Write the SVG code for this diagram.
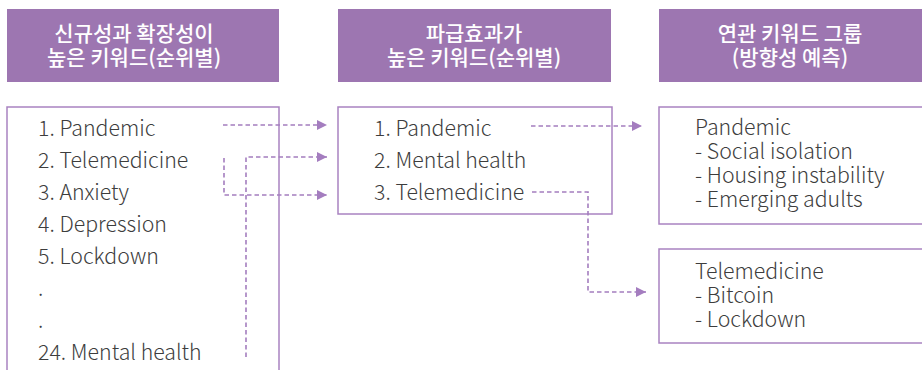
<svg xmlns="http://www.w3.org/2000/svg" width="922" height="370" viewBox="0 0 922 370">
<style>
.hdr{fill:#9d76b1}
.ht{font-family:"Noto Sans CJK KR","Noto Sans",sans-serif;font-size:21px;font-weight:500;fill:#ffffff;text-anchor:middle}
.box{fill:#ffffff;stroke:#a983c1;stroke-width:1.5}
.t{font-family:"Noto Sans CJK KR","Noto Sans",sans-serif;font-size:21.3px;font-weight:300;fill:#3d3d3d}
.c{fill:none;stroke:#a47dbf;stroke-width:1.6;stroke-dasharray:4.5 3}
</style>
<defs>
<marker id="ah" markerWidth="10" markerHeight="10" refX="10" refY="5" orient="auto" markerUnits="userSpaceOnUse" viewBox="0 0 10 10">
<path d="M0,0 L10,5 L0,10 Z" fill="#a47dbf"/>
</marker>
</defs>
<g id="h1"><rect class="hdr" x="7" y="9" width="272" height="73"/><text class="ht" x="134" y="41">신규성과 확장성이</text><text class="ht" x="134" y="65">높은 키워드(순위별)</text></g>
<g id="h2"><rect class="hdr" x="338" y="9" width="273" height="73"/><text class="ht" x="474" y="41">파급효과가</text><text class="ht" x="474" y="65">높은 키워드(순위별)</text></g>
<g id="h3"><rect class="hdr" x="659" y="9" width="270" height="73"/><text class="ht" x="790" y="41">연관 키워드 그룹</text><text class="ht" x="790" y="65">(방향성 예측)</text></g>
<g id="listA"><rect class="box" x="7" y="107" width="272" height="270"/>
<text class="t" x="38" y="136">1. Pandemic</text>
<text class="t" x="38" y="168">2. Telemedicine</text>
<text class="t" x="38" y="200">3. Anxiety</text>
<text class="t" x="38" y="232">4. Depression</text>
<text class="t" x="38" y="264">5. Lockdown</text>
<text class="t" x="38" y="296">.</text>
<text class="t" x="38" y="328">.</text>
<text class="t" x="38" y="360">24. Mental health</text>
</g>
<g id="listB"><rect class="box" x="338" y="107" width="274" height="107"/>
<text class="t" x="374" y="136">1. Pandemic</text>
<text class="t" x="374" y="168">2. Mental health</text>
<text class="t" x="374" y="200">3. Telemedicine</text>
</g>
<g id="groupC"><rect class="box" x="659" y="107" width="270" height="117"/>
<text class="t" x="695" y="135">Pandemic</text>
<text class="t" x="695" y="159">- Social isolation</text>
<text class="t" x="695" y="183">- Housing instability</text>
<text class="t" x="695" y="207">- Emerging adults</text>
</g>
<g id="groupD"><rect class="box" x="659" y="249" width="270" height="94"/>
<text class="t" x="695" y="279">Telemedicine</text>
<text class="t" x="695" y="303">- Bitcoin</text>
<text class="t" x="695" y="327">- Lockdown</text>
</g>
<g id="connectors">
<path class="c" d="M223,125 H327" marker-end="url(#ah)"/>
<path class="c" d="M246,357 V157 H327" marker-end="url(#ah)"/>
<path class="c" d="M224,158 V195 H327" marker-end="url(#ah)"/>
<path class="c" d="M531,126 H642" marker-end="url(#ah)"/>
<path class="c" d="M532,192 H588 V292 H646" marker-end="url(#ah)"/>
</g>
</svg>
